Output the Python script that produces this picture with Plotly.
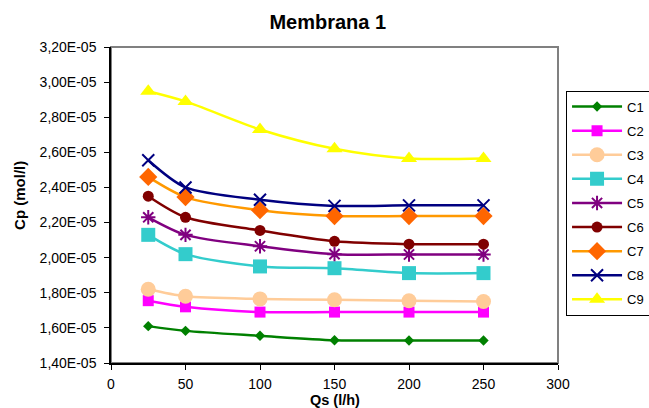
import plotly.graph_objects as go

qs = [25, 50, 100, 150, 200, 250]
C1 = [1.61e-05, 1.583e-05, 1.555e-05, 1.53e-05, 1.528e-05, 1.528e-05]
C2 = [1.755e-05, 1.72e-05, 1.69e-05, 1.69e-05, 1.69e-05, 1.69e-05]
C3 = [1.82e-05, 1.78e-05, 1.765e-05, 1.76e-05, 1.755e-05, 1.75e-05]
C4 = [2.13e-05, 2.02e-05, 1.95e-05, 1.94e-05, 1.912e-05, 1.912e-05]
C5 = [2.23e-05, 2.13e-05, 2.065e-05, 2.02e-05, 2.018e-05, 2.018e-05]
C6 = [2.35e-05, 2.23e-05, 2.155e-05, 2.093e-05, 2.077e-05, 2.077e-05]
C7 = [2.46e-05, 2.345e-05, 2.27e-05, 2.237e-05, 2.237e-05, 2.237e-05]
C8 = [2.555e-05, 2.40e-05, 2.33e-05, 2.295e-05, 2.298e-05, 2.298e-05]
C9 = [2.948e-05, 2.89e-05, 2.73e-05, 2.62e-05, 2.565e-05, 2.565e-05]

series_names = ["C1", "C2", "C3", "C4", "C5", "C6", "C7", "C8", "C9"]
series_vals = [C1, C2, C3, C4, C5, C6, C7, C8, C9]

y_tickvals = [1.4e-05, 1.6e-05, 1.8e-05, 2.0e-05, 2.2e-05, 2.4e-05, 2.6e-05, 2.8e-05, 3.0e-05, 3.2e-05]
y_ticktext = ["1,40E-05", "1,60E-05", "1,80E-05", "2,00E-05", "2,20E-05", "2,40E-05",
              "2,60E-05", "2,80E-05", "3,00E-05", "3,20E-05"]
x_tickvals = [0, 50, 100, 150, 200, 250, 300]

styles = [
    dict(line="#008000", marker="#008000", symbol="diamond", size=8),
    dict(line="#FF00FF", marker="#FF00FF", symbol="square", size=11),
    dict(line="#FFCC99", marker="#FFCC99", symbol="circle", size=15),
    dict(line="#33CCCC", marker="#33CCCC", symbol="square", size=14),
    dict(line="#800080", marker="#800080", symbol="asterisk-open", size=12),
    dict(line="#800000", marker="#800000", symbol="circle", size=11),
    dict(line="#FF9900", marker="#FF6600", symbol="diamond", size=14),
    dict(line="#000080", marker="#000080", symbol="x-thin-open", size=12),
    dict(line="#FFFF00", marker="#FFFF00", symbol="triangle-up", size=14),
]

fig = go.Figure()
for name, vals, st in zip(series_names, series_vals, styles):
    mk = dict(symbol=st["symbol"], size=st["size"], color=st["marker"])
    if st["symbol"].endswith("open"):
        mk["line"] = dict(color=st["marker"], width=2)
    fig.add_trace(go.Scatter(
        x=qs, y=vals, name=name, mode="lines+markers",
        line=dict(color=st["line"], width=2.5, shape="spline", smoothing=0.8),
        marker=mk, legendgroup=name,
    ))

fig.update_layout(
    width=649, height=408,
    margin=dict(l=111, r=91, t=47, b=45, autoexpand=False),
    paper_bgcolor="white", plot_bgcolor="white",
    font=dict(family="Liberation Sans, Arial, sans-serif", size=14, color="black"),
    title=dict(text="<b>Membrana 1</b>", x=0.505, xanchor="center", y=0.946, yref="container",
               yanchor="middle", font=dict(size=20), automargin=False),
    xaxis=dict(range=[0, 300], tickvals=x_tickvals, showgrid=False, zeroline=False,
               showline=True, linecolor="black", linewidth=1.5, mirror=False,
               ticks="outside", ticklen=5, tickcolor="black", tickfont=dict(size=14),
               ticklabelstandoff=2, automargin=False),
    yaxis=dict(range=[1.4e-05, 3.2e-05], tickvals=y_tickvals, ticktext=y_ticktext,
               showgrid=False, zeroline=False, showline=True, linecolor="black", linewidth=1.5,
               ticks="outside", ticklen=5, tickcolor="black", tickfont=dict(size=14),
               ticklabelstandoff=5, automargin=False),
    legend=dict(x=1.018, xanchor="left", y=0.862, yanchor="top",
                bordercolor="black", borderwidth=1, bgcolor="white",
                font=dict(size=13), tracegroupgap=4.2, itemwidth=50),
    shapes=[dict(type="rect", xref="paper", yref="paper", x0=0, y0=0, x1=1, y1=1,
                 line=dict(color="#808080", width=2), layer="below")],
    annotations=[
        dict(text="<b>Qs (l/h)</b>", xref="paper", yref="paper", x=0.5, y=-0.1465,
             xanchor="center", yanchor="bottom", showarrow=False, font=dict(size=14.5),
             borderpad=0),
        dict(text="<b>Cp (mol/l)</b>", xref="paper", yref="paper", x=-0.205, y=0.53,
             xanchor="center", yanchor="middle", showarrow=False, textangle=-90,
             font=dict(size=15)),
    ],
)

fig.write_html("out.html", config={"displayModeBar": False},
               post_script="document.body.style.margin='0';document.body.style.overflow='hidden';")
